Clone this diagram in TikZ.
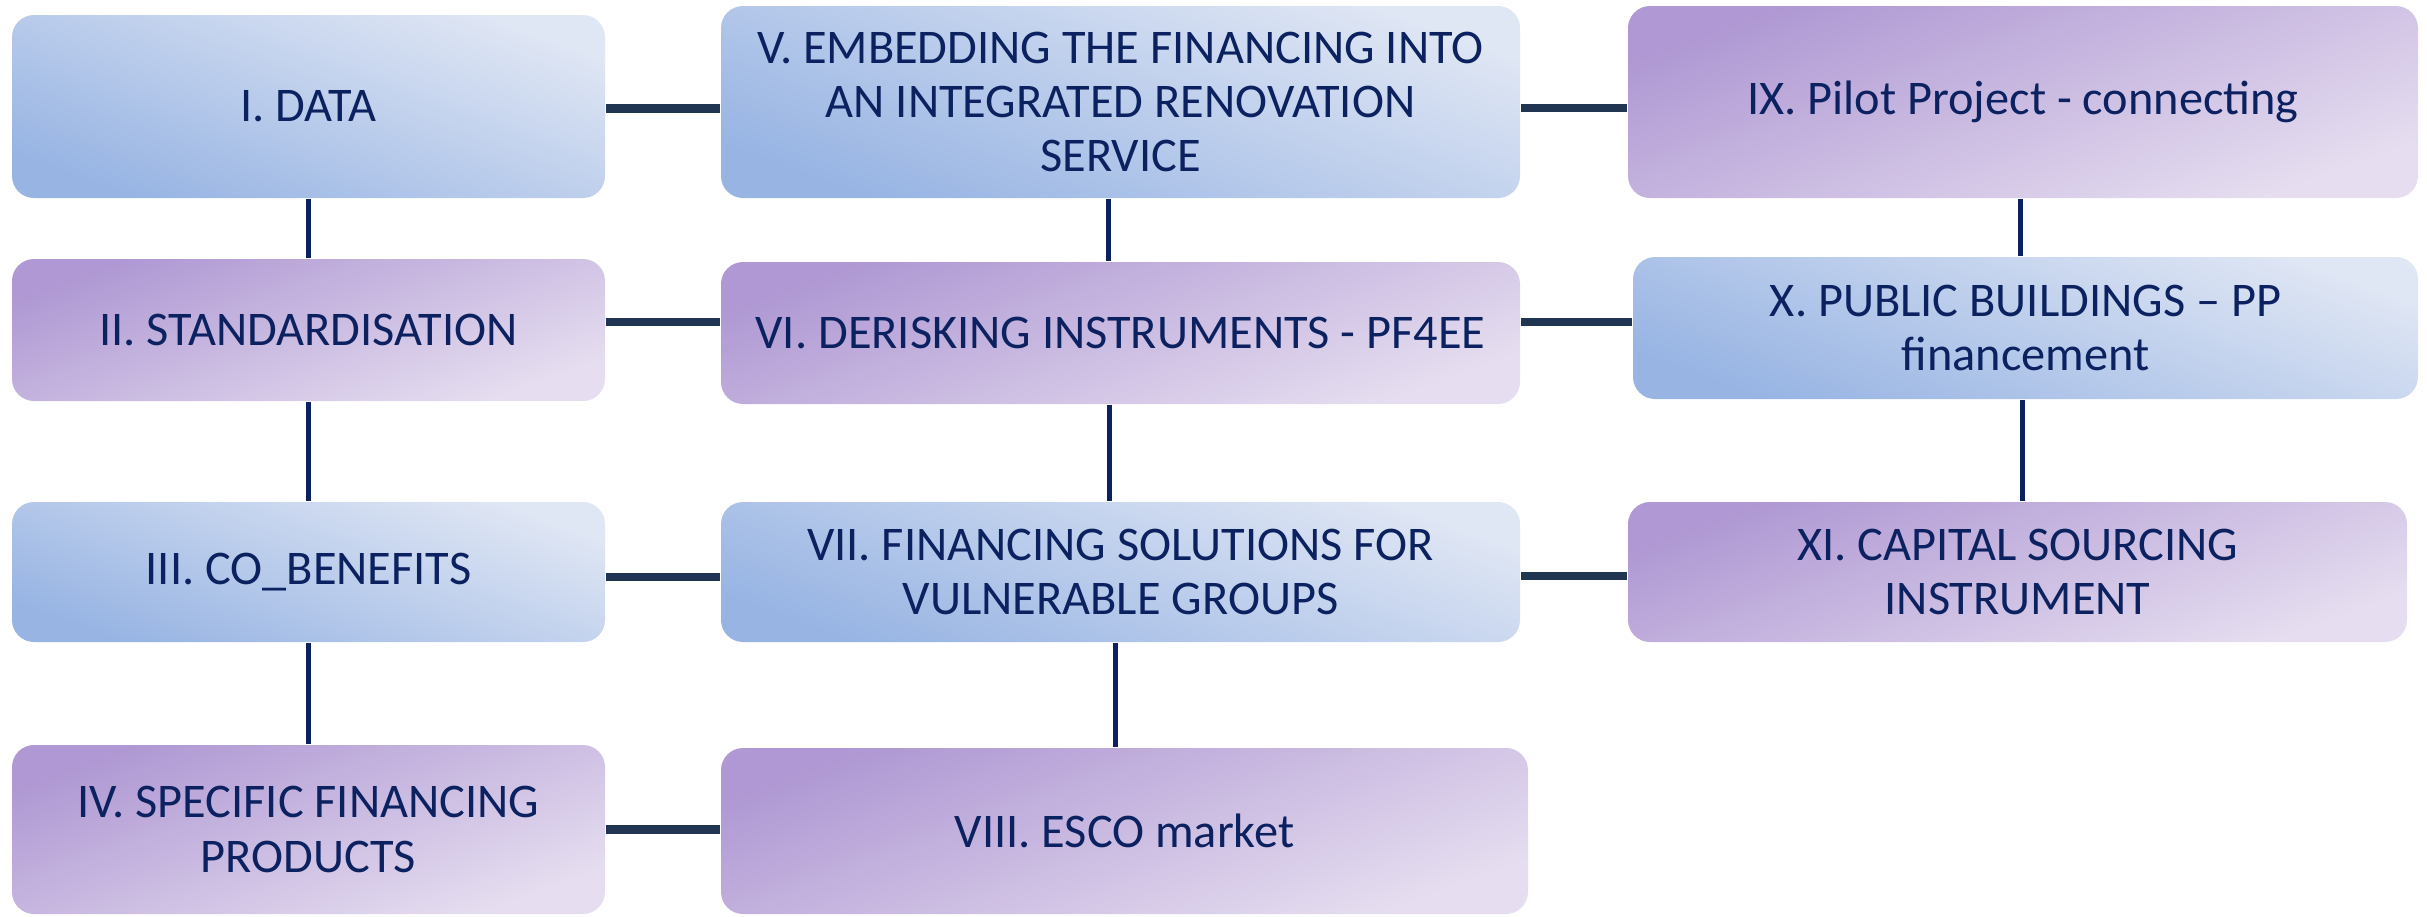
\documentclass[tikz,border=0pt]{standalone}
\usepackage{fontspec}
\setmainfont{Carlito}
\definecolor{txtnavy}{HTML}{0B2160}
\definecolor{hcol}{HTML}{1F3552}
\definecolor{vcol}{HTML}{0B2160}
\definecolor{bdark}{HTML}{97B4E3}
\definecolor{blight}{HTML}{DFE6F4}
\definecolor{pdark}{HTML}{AF98D3}
\definecolor{plight}{HTML}{E6DEF0}
\tikzset{
  boxbase/.style={rounded corners=6.6pt, inner sep=0pt, align=center, text=txtnavy,
    font=\fontsize{14.5}{16.3}\selectfont},
  bluebox/.style={boxbase, shade, top color=blight, bottom color=bdark, shading angle=-20},
  purplebox/.style={boxbase, shade, top color=pdark, bottom color=plight, shading angle=20},
  hline/.style={draw=hcol, line width=2.6pt},
  vline/.style={draw=vcol, line width=1.5pt},
}
\begin{document}
\begin{tikzpicture}[x=0.3pt, y=-0.3pt]
\useasboundingbox (0,0) rectangle (2427,916);
% column 1
\node[bluebox, minimum width=177.9pt, minimum height=54.9pt] (I) at (308.5,106.5) {I. DATA};
\node[purplebox, minimum width=177.9pt, minimum height=42.6pt] (II) at (308.5,330) {II. STANDARDISATION};
\node[bluebox, minimum width=177.9pt, minimum height=42pt] (III) at (308.5,572) {III. CO\_BENEFITS};
\node[purplebox, minimum width=177.9pt, minimum height=50.7pt] (IV) at (308.5,829.5) {IV. SPECIFIC FINANCING\\PRODUCTS};
% column 2
\node[bluebox, minimum width=239.7pt, minimum height=57.6pt] (V) at (1120.5,102) {V. EMBEDDING THE FINANCING INTO\\AN INTEGRATED RENOVATION\\SERVICE};
\node[purplebox, minimum width=239.7pt, minimum height=42.6pt] (VI) at (1120.5,333) {VI. DERISKING INSTRUMENTS - PF4EE};
\node[bluebox, minimum width=239.7pt, minimum height=42pt] (VII) at (1120.5,572) {VII. FINANCING SOLUTIONS FOR\\VULNERABLE GROUPS};
\node[purplebox, minimum width=242.1pt, minimum height=49.8pt] (VIII) at (1124.5,831) {VIII. ESCO market};
% column 3
\node[purplebox, minimum width=237pt, minimum height=57.6pt] (IX) at (2023,102) {IX. Pilot Project - connecting};
\node[bluebox, minimum width=235.5pt, minimum height=42.6pt] (X) at (2025.5,328) {X. PUBLIC BUILDINGS -- PP\\financement};
\node[purplebox, minimum width=233.7pt, minimum height=42pt] (XI) at (2017.5,572) {XI. CAPITAL SOURCING\\INSTRUMENT};
% horizontal connectors
\draw[hline] ([yshift=-0.6pt]I.east) -- ([yshift=-0.6pt]I.east -| V.west);
\draw[hline] ([yshift=2.4pt]II.east) -- ([yshift=2.4pt]II.east -| VI.west);
\draw[hline] ([yshift=-1.5pt]III.east) -- ([yshift=-1.5pt]III.east -| VII.west);
\draw[hline] (IV.east) -- (IV.east -| VIII.west);
\draw[hline] ([yshift=-1.8pt]V.east) -- ([yshift=-1.8pt]V.east -| IX.west);
\draw[hline] ([yshift=3.3pt]VI.east) -- ([yshift=3.3pt]VI.east -| X.west);
\draw[hline] ([yshift=-1.2pt]VII.east) -- ([yshift=-1.2pt]VII.east -| XI.west);
% vertical connectors
\draw[vline] (I.south) -- (I.south |- II.north);
\draw[vline] (II.south) -- (II.south |- III.north);
\draw[vline] (III.south) -- (III.south |- IV.north);
\draw[vline] ([xshift=-3.75pt]V.south) -- ([xshift=-3.75pt]V.south |- VI.north);
\draw[vline] ([xshift=-3.2pt]VI.south) -- ([xshift=-3.2pt]VI.south |- VII.north);
\draw[vline] ([xshift=-1.4pt]VII.south) -- ([xshift=-1.4pt]VII.south |- VIII.north);
\draw[vline] ([xshift=-0.9pt]IX.south) -- ([xshift=-0.9pt]IX.south |- X.north);
\draw[vline] ([xshift=-0.9pt]X.south) -- ([xshift=-0.9pt]X.south |- XI.north);
\end{tikzpicture}
\end{document}
